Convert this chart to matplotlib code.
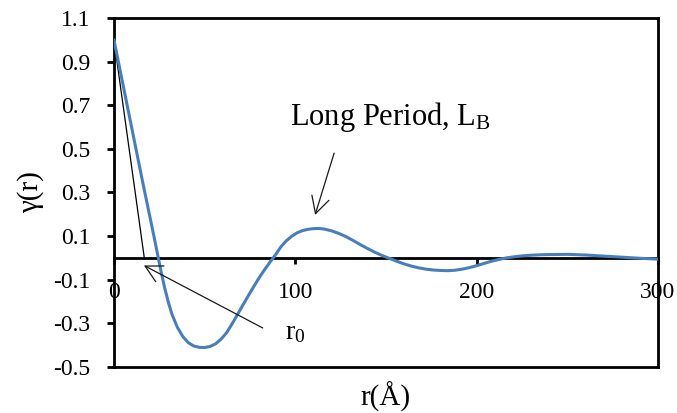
import matplotlib
matplotlib.use("Agg")
import matplotlib.pyplot as plt

plt.rcParams['font.family'] = ['Liberation Serif', 'DejaVu Serif']
plt.rcParams['mathtext.fontset'] = 'custom'
plt.rcParams['mathtext.rm'] = 'Liberation Serif'
plt.rcParams['mathtext.it'] = 'Liberation Serif:italic'

# correlation function
r_vals = [0, 4, 8, 12, 16, 20, 22, 24, 26, 28, 30, 32, 35, 38, 41, 44, 47,
          50, 53, 56, 59, 62, 65, 68, 71, 74, 77, 80, 83, 86, 89, 92, 95, 98,
          101, 104, 107, 110, 113, 116, 120, 124, 128, 132, 136, 140, 144,
          148, 152, 156, 160, 164, 168, 172, 176, 180, 184, 188, 192, 196,
          200, 204, 208, 212, 216, 220, 225, 230, 235, 240, 250, 260, 270,
          280, 290, 300]
gamma_vals = [1.0, 0.835, 0.67, 0.505, 0.34, 0.18, 0.10, 0.017, -0.065, -0.14,
              -0.205, -0.26, -0.32, -0.362, -0.39, -0.405, -0.411,
              -0.412, -0.407, -0.395, -0.374, -0.345, -0.305, -0.262, -0.218,
              -0.175, -0.133, -0.092, -0.055, -0.02, 0.013, 0.05, 0.078, 0.099,
              0.115, 0.125, 0.131, 0.134, 0.135, 0.132, 0.124, 0.112, 0.097,
              0.079, 0.06, 0.042, 0.025,
              0.01, -0.003, -0.016, -0.028, -0.038, -0.046, -0.052, -0.056,
              -0.058, -0.059, -0.057, -0.052, -0.045,
              -0.036, -0.026, -0.016, -0.008, -0.001, 0.004, 0.009, 0.012,
              0.014, 0.015, 0.016, 0.013, 0.008,
              0.003, -0.002, -0.006]

# tangent at r=0 down to r0
tangent_r = [0, 16.7]
tangent_g = [1.0, 0.0]

x_ticks = [0, 100, 200, 300]
y_ticks = [1.1, 0.9, 0.7, 0.5, 0.3, 0.1, -0.1, -0.3, -0.5]

fig = plt.figure(figsize=(6.77, 4.13), dpi=100)
ax = fig.add_axes([0.1684, 0.1121, 0.8035, 0.8436])

ax.plot(r_vals, gamma_vals, color='#4A7EBB', lw=2.2, zorder=3,
        solid_joinstyle='round')
ax.plot(tangent_r, tangent_g, color='black', lw=0.9, zorder=2)

ax.set_xlim(0, 300)
ax.set_ylim(-0.5, 1.1)

# x axis crosses at zero, Excel style
ax.spines['bottom'].set_position(('data', 0))
for s in ax.spines.values():
    s.set_linewidth(2)
    s.set_color('black')
ax.plot([0, 1], [0, 0], transform=ax.transAxes, color='black', lw=2,
        clip_on=False, solid_capstyle='projecting')

ax.set_xticks(x_ticks)
ax.set_xticklabels([str(v) for v in x_ticks])
ax.set_yticks(y_ticks)
ax.set_yticklabels(['%.1f' % v for v in y_ticks])
ax.tick_params(axis='x', direction='out', length=4.5, width=2, pad=13,
               labelsize=17)
ax.tick_params(axis='y', direction='out', length=5, width=2, pad=12,
               labelsize=17)

ax.set_xlabel('r(Å)', fontsize=21)
ax.xaxis.set_label_coords(0.5, -0.087)
ax.xaxis.label.set_va('center')
ax.set_ylabel('γ(r)', fontsize=21)
ax.yaxis.set_label_coords(-0.153, 0.5)
ax.yaxis.label.set_va('center')

arrow = dict(arrowstyle='->,head_length=0.6,head_width=0.32', color='#1a1a1a',
             lw=0.9, mutation_scale=20, shrinkA=0, shrinkB=0)
ax.annotate('', xy=(16.5, -0.035), xytext=(82, -0.322), arrowprops=arrow)
ax.annotate('', xy=(110.9, 0.197), xytext=(121.4, 0.481), arrowprops=arrow)

ax.text(97.1, 0.61, r'Long Period, L$_\mathrm{B}$', fontsize=22,
        ha='left', va='baseline')
ax.text(94.3, -0.373, r'r$_\mathrm{0}$', fontsize=20, ha='left', va='baseline')

fig.savefig('out.png', dpi=100)
